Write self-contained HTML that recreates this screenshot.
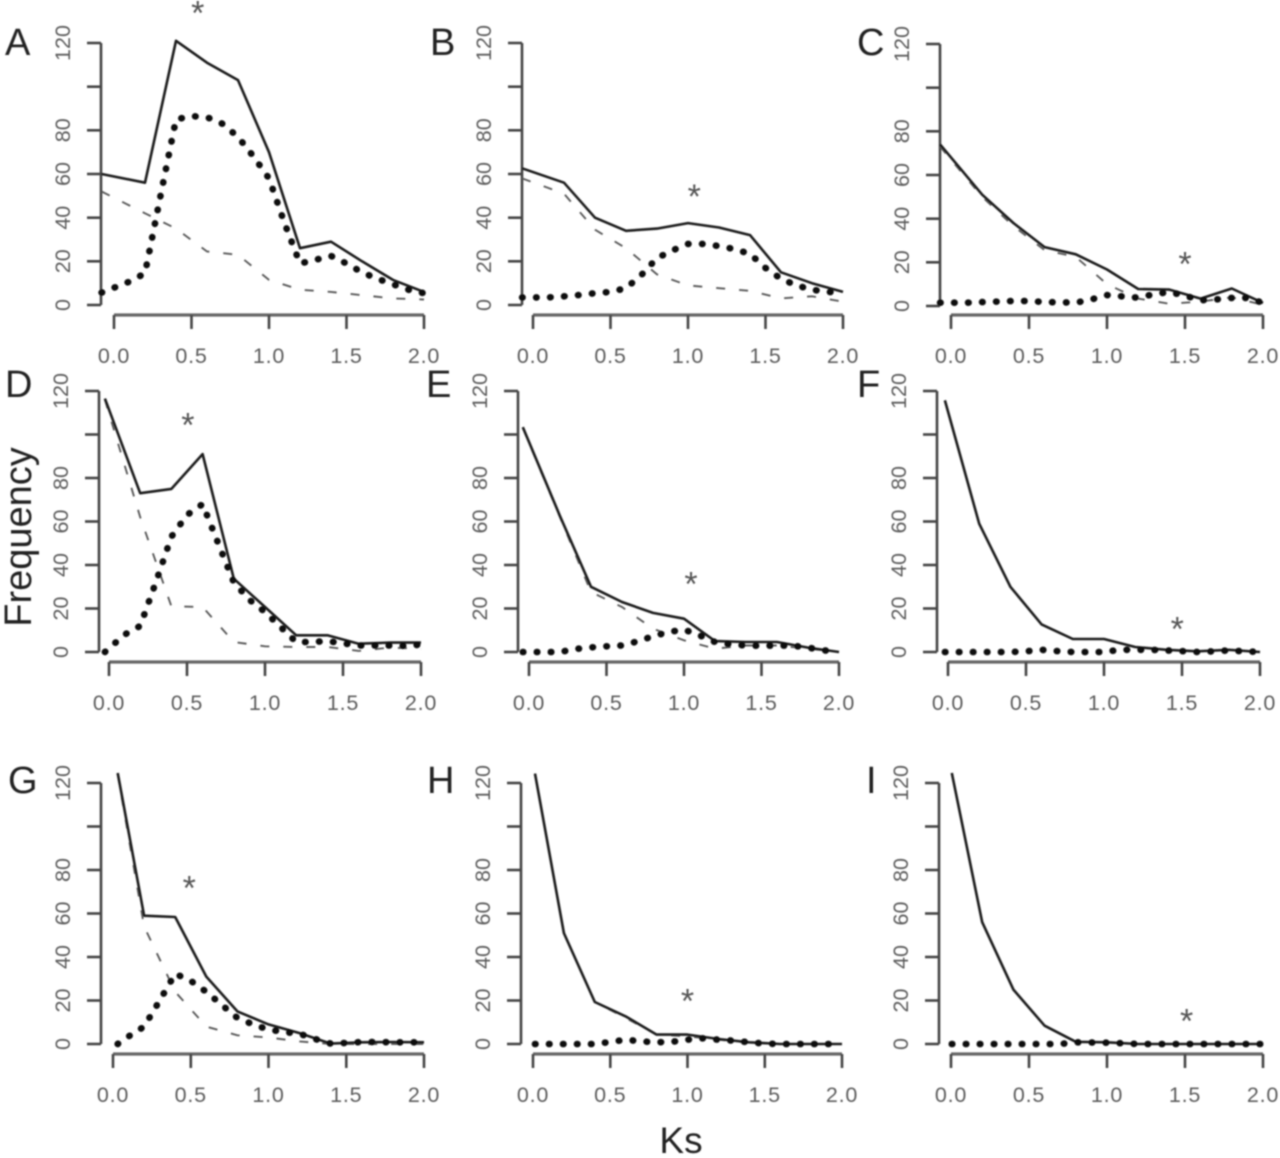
<!DOCTYPE html>
<html lang="en">
<head>
<meta charset="utf-8">
<title>Ks frequency distributions</title>
<style>
html,body{margin:0;padding:0;background:#fff;width:1280px;height:1158px;overflow:hidden}
svg{display:block}
text{font-family:"Liberation Sans",sans-serif}
.tick-label{fill:#5c5c5c;font-size:21.5px}
.panel-letter{fill:#222;font-size:38px}
.axis-title{fill:#222;font-size:38px}
</style>
</head>
<body>
<svg id="chart" width="1280" height="1158" viewBox="0 0 1280 1158" xmlns="http://www.w3.org/2000/svg">
  <defs>
    <filter id="soft" x="-5%" y="-5%" width="110%" height="110%"><feGaussianBlur stdDeviation="0.75"/></filter>
  </defs>
  <rect width="1280" height="1158" fill="#fff"/>
  <g id="root" filter="url(#soft)">
    <text class="panel-letter" x="5" y="55">A</text>
    <text class="panel-letter" x="430" y="55">B</text>
    <text class="panel-letter" x="857" y="55">C</text>
    <text class="panel-letter" x="5" y="397">D</text>
    <text class="panel-letter" x="426" y="397">E</text>
    <text class="panel-letter" x="857" y="397">F</text>
    <text class="panel-letter" x="8" y="793">G</text>
    <text class="panel-letter" x="427" y="793">H</text>
    <text class="panel-letter" x="866" y="793">I</text>
    <text class="axis-title" transform="translate(31,537) rotate(-90)" text-anchor="middle">Frequency</text>
    <text class="axis-title" x="681" y="1153" text-anchor="middle" style="font-size:37px">Ks</text>
  </g>
</svg>
<script>
// Shared categories and tick labels
const lineKs = [0, 0.2, 0.4, 0.6, 0.8, 1.0, 1.2, 1.4, 1.6, 1.8, 2.0];
const dotKs = [0, 0.1, 0.2, 0.3, 0.4, 0.5, 0.6, 0.7, 0.8, 0.9, 1.0, 1.1, 1.2, 1.3, 1.4, 1.5, 1.6, 1.7, 1.8, 1.9, 2.0];
const xTicks = [0, 0.5, 1.0, 1.5, 2.0];
const xTickLabels = ["0.0", "0.5", "1.0", "1.5", "2.0"];
const yTicks = [0, 20, 40, 60, 80, 100, 120];
const yTickLabels = ["0", "20", "40", "60", "80", "", "120"];

// First plotted Ks value for each panel (curves begin slightly off the tick at 0.0)
const firstKs = [-0.08, -0.07, -0.07, -0.026, -0.04, -0.02, 0.03, 0.013, 0.005];

// Total (solid)
const solidA = [60, 56, 121, 111, 103, 70, 26, 29, 20, 11.5, 6];
const solidB = [62.6, 56, 40, 34, 35, 37.5, 35.5, 32, 15, 10, 6];
const solidC = [74, 51, 38, 27, 23.7, 16.7, 7.8, 7.5, 3.4, 8, 1.4];
const solidD = [116.5, 73, 75, 91, 33.7, 20.7, 7.7, 7.7, 3.8, 4.3, 4.3];
const solidE = [103.4, 62.5, 30, 23, 18, 15.3, 5, 4.6, 4.6, 2, 0];
const solidF = [115.7, 59, 30, 12.7, 6, 6, 2.3, 1, 0.3, 1, 0];
const solidG = [124.6, 59, 58.4, 31, 15, 9, 5, 0.2, 0.8, 0.9, 0.8];
const solidH = [124.3, 51, 19.3, 12.7, 4.3, 4.3, 2.3, 0.8, 0, 0, 0];
const solidI = [124.6, 56, 25, 8.4, 1, 0.8, 0, 0, 0, 0, 0];

// Young component (dashed)
const dashedA = [52, 42, 35, 24.5, 23, 11.5, 7, 6, 4.5, 3, 2.5];
const dashedB = [58, 51, 34.5, 26, 14, 9, 7.7, 6.5, 3, 4, 1.5];
const dashedC = [73, 50, 36.6, 25.6, 22.5, 10, 3.4, 1, 2, 4, 0.5];
const dashedD = [116, 62, 21, 20.7, 4.6, 2.6, 2.3, 2.3, 0.5, 2, 1.5];
const dashedE = [103, 62, 27.6, 20.7, 10.7, 5.4, 1.5, 3, 3, 1.5, 0];
const dashedF = [115.7, 59, 30, 12.7, 6, 6, 2.3, 1, 0.3, 1, 0];
const dashedG = [124, 54, 24, 8, 4, 3, 1.2, 0, 0, 0, 0];
const dashedH = [124.3, 51, 19.3, 12, 4.3, 3.5, 2, 0.5, 0, 0, 0];
const dashedI = [124.6, 56, 25, 8.4, 1, 0.8, 0, 0, 0, 0, 0];

// Peak component (thick dotted)
const dottedA = [5.7, 10.7, 14.5, 50, 85, 86.5, 86, 83, 77, 68, 58, 37.5, 19, 20.7, 22.5, 19, 15, 12, 9.5, 7, 5.4];
const dottedB = [3.5, 3.5, 4, 4.6, 5.4, 6, 7.7, 13.8, 21.5, 25, 28, 28, 27, 25.6, 23.4, 17, 12, 9, 7, 6, 5.7];
const dottedC = [1.5, 1.5, 1.8, 2, 2.3, 2.3, 1.8, 1.7, 1.5, 3, 5, 4.4, 3.8, 5.4, 6.4, 4.7, 2.6, 3, 3.7, 3.7, 1.4];
const dottedD = [0, 8, 12, 32, 53, 63, 68, 50, 32, 24, 18.4, 11.5, 4.6, 4.6, 5, 4, 3, 3, 3, 2.8, 3.4];
const dottedE = [0, 0, 0, 1.4, 2.1, 2.6, 3, 4.9, 7.2, 9.2, 10.3, 7.7, 4.6, 3.5, 3, 2.8, 3, 2.9, 2, 0.8, 0];
const dottedF = [0, 0, 0, 0, 0, 0.3, 1, 0.4, 0, 0, 0, 1, 1, 1, 0.7, 0.4, 0, 0.3, 0.7, 0.3, 0];
const dottedG = [0, 3.5, 8, 20, 32.3, 29, 24, 18, 12, 9, 6.6, 5.5, 4.7, 2.3, 0.2, 0.5, 0.9, 0.9, 0.8, 0.8, 0.8];
const dottedH = [0, 0, 0, 0, 0, 0.9, 2, 1.2, 0.8, 1, 2, 2.6, 2, 1.5, 0.8, 0.2, 0, 0, 0, 0, 0];
const dottedI = [0, 0, 0, 0, 0, 0, 0, 0, 0.8, 0.7, 0.6, 0.3, 0, 0, 0, 0, 0, 0, 0, 0, 0];

// Asterisk markers
const starKs = [0.54, 1.04, 1.5, 0.506, 1.045, 1.47, 0.49, 1.0, 1.51];
const starFreq = [136, 52, 21.6, 106.7, 33.6, 12.9, 74, 22, 12.9];

const solidSeries = [solidA, solidB, solidC, solidD, solidE, solidF, solidG, solidH, solidI];
const dashedSeries = [dashedA, dashedB, dashedC, dashedD, dashedE, dashedF, dashedG, dashedH, dashedI];
const dottedSeries = [dottedA, dottedB, dottedC, dottedD, dottedE, dottedF, dottedG, dottedH, dottedI];
const panelNames = ["a", "b", "c", "d", "e", "f", "g", "h", "i"];

// Panel frames in page pixels (layout only)
const frames = [
  {axis:101, top:43,  bottom:305,  xAxis:315,  left:114, right:424},
  {axis:522, top:43,  bottom:305,  xAxis:315,  left:533, right:843},
  {axis:940, top:44,  bottom:306,  xAxis:315,  left:951, right:1263},
  {axis:99,  top:391, bottom:652,  xAxis:662,  left:109, right:421},
  {axis:518, top:391, bottom:652,  xAxis:662,  left:529, right:839},
  {axis:937, top:391, bottom:652,  xAxis:662,  left:948, right:1260},
  {axis:101, top:783, bottom:1044, xAxis:1054, left:113, right:424},
  {axis:521, top:783, bottom:1044, xAxis:1054, left:533, right:842},
  {axis:939, top:783, bottom:1044, xAxis:1054, left:951, right:1263}
];

const SVGNS = "http://www.w3.org/2000/svg";
const root = document.getElementById("root");

function mk(tag, parent, attrs) {
  const el = document.createElementNS(SVGNS, tag);
  for (const k in attrs) el.setAttribute(k, attrs[k]);
  parent.appendChild(el);
  return el;
}

function linePath(kss, vals, xs, ys, start) {
  return kss.map(function (k, i) {
    const kv = i === 0 ? start : k;
    return (i ? "L" : "M") + xs(kv).toFixed(1) + " " + ys(vals[i]).toFixed(1);
  }).join(" ");
}

frames.forEach(function (f, p) {
  const name = panelNames[p];
  const xs = function (k) { return f.left + k * (f.right - f.left) / 2; };
  const ys = function (v) { return f.bottom - v * (f.bottom - f.top) / 120; };

  const g = mk("g", root, {});
  
  

  const axisStyle = {fill: "none", stroke: "#444", "stroke-width": 2.6};

  // y axis
  const yAxis = mk("path", g, Object.assign({d: "M" + f.axis + " " + ys(120) + " V" + ys(0)}, axisStyle));
  
  
  yTicks.forEach(function (t, i) {
    const tick = mk("path", g, Object.assign({d: "M" + (f.axis - 14) + " " + ys(t).toFixed(1) + " H" + f.axis}, axisStyle));
    
    
    if (yTickLabels[i]) {
      const tx = f.axis - 31;
      const lab = mk("text", g, {"class": "tick-label", "text-anchor": "middle", transform: "translate(" + tx + "," + ys(t).toFixed(1) + ") rotate(-90)"});
      lab.textContent = yTickLabels[i];
      
      
    }
  });

  // x axis
  const xAxis = mk("path", g, Object.assign({d: "M" + xs(0) + " " + f.xAxis + " H" + xs(2)}, axisStyle, {"stroke-width": 3.2, stroke: "#666"}));
  
  
  xTicks.forEach(function (t, i) {
    const tick = mk("path", g, Object.assign({d: "M" + xs(t).toFixed(1) + " " + f.xAxis + " V" + (f.xAxis + 14)}, axisStyle));
    
    
    const lab = mk("text", g, {"class": "tick-label", "text-anchor": "middle", x: xs(t).toFixed(1), y: f.xAxis + 48, "letter-spacing": "0.8"});
    lab.textContent = xTickLabels[i];
    
    
  });

  // series
  const dashed = mk("path", g, {d: linePath(lineKs, dashedSeries[p], xs, ys, firstKs[p]), fill: "none", stroke: "#5a5a5a", "stroke-width": 1.9, "stroke-dasharray": "9 14"});
  
  

  const solid = mk("path", g, {d: linePath(lineKs, solidSeries[p], xs, ys, firstKs[p]), fill: "none", stroke: "#1c1c1c", "stroke-width": 2.6, "stroke-linejoin": "round"});
  
  

  const dotted = mk("path", g, {d: linePath(dotKs, dottedSeries[p], xs, ys, firstKs[p]), fill: "none", stroke: "#0c0c0c", "stroke-width": 6.6, "stroke-linecap": "round", "stroke-linejoin": "round", "stroke-dasharray": "0.5 13.5"});
  
  

  // asterisk
  const star = mk("text", g, {x: xs(starKs[p]).toFixed(1), y: (ys(starFreq[p]) + 16.5).toFixed(1), "text-anchor": "middle", fill: "#555", style: "font-size:34px"});
  star.textContent = "*";
  
  
});
</script>
</body>
</html>
